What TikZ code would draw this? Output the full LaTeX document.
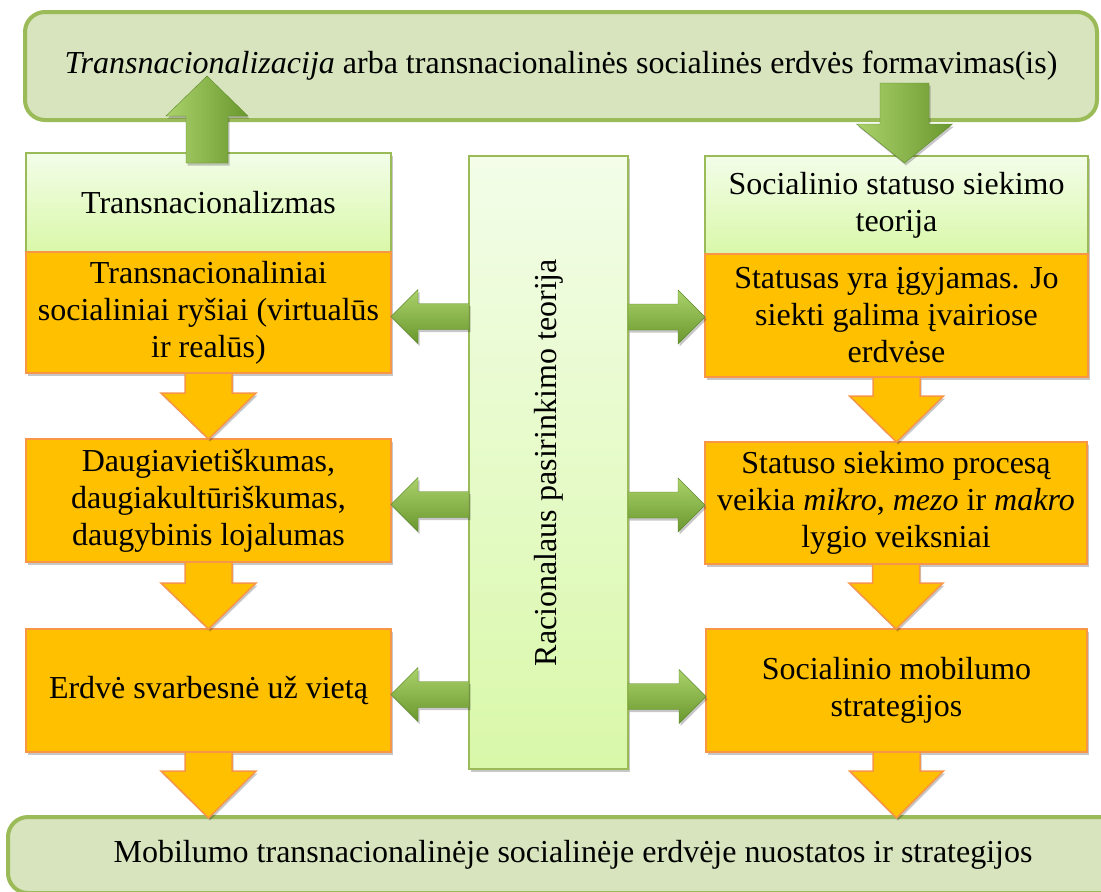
\documentclass[tikz,border=0pt]{standalone}
\usepackage{fontspec}
\setmainfont{Liberation Serif}
\usetikzlibrary{calc,shadows}

\definecolor{boxorange}{HTML}{FFC000}
\definecolor{stageline}{HTML}{F79646}
\definecolor{framegreen}{HTML}{9BBB59}
\definecolor{panelgreen}{HTML}{D7E4BD}
\definecolor{theorytop}{HTML}{F3FDE9}
\definecolor{theorybot}{HTML}{D9F8A9}
\definecolor{linklight}{HTML}{ABD26A}
\definecolor{linkmid}{HTML}{93BF4E}
\definecolor{linkdark}{HTML}{6A972F}
\definecolor{linkedge}{HTML}{5E8A2A}

% vertical block arrow: style, from, to, shaft half-width, head half-width, head length
\newcommand\vblock[6]{%
  \path[#1] let \p1=(#2), \p2=(#3), \p3=($(\x1,\y2)!#6!(\p1)$) in
    (\x1-#4,\y1) -- (\x1-#4,\y3) -- (\x1-#5,\y3) -- (\x1,\y2)
    -- (\x1+#5,\y3) -- (\x1+#4,\y3) -- (\x1+#4,\y1) -- cycle;}
% horizontal block arrow: style, from, to, shaft half-width, head half-width, head length
\newcommand\hblock[6]{%
  \path[#1] let \p1=(#2), \p2=(#3), \p3=($(\x2,\y1)!#6!(\p1)$) in
    (\x1,\y1-#4) -- (\x3,\y1-#4) -- (\x3,\y1-#5) -- (\x2,\y1)
    -- (\x3,\y1+#5) -- (\x3,\y1+#4) -- (\x1,\y1+#4) -- cycle;}

\begin{document}
\begin{tikzpicture}[x=1pt,y=-1pt,
  every node/.style={inner sep=0pt, outer sep=0pt, align=center,
    font=\fontsize{32}{37}\selectfont},
  softshadow/.style={drop shadow={shadow xshift=1.5pt, shadow yshift=-2.5pt,
    opacity=0.22, fill=black}},
  frame/.style={draw=framegreen, line width=4pt, fill=panelgreen,
    rounded corners=20pt},
  theory/.style={draw=framegreen, line width=1.5pt, top color=theorytop,
    bottom color=theorybot, softshadow},
  stage/.style={draw=stageline, line width=1.5pt, fill=boxorange, softshadow},
  flow/.style={draw=stageline, line width=1.5pt, fill=boxorange, softshadow},
  hlink/.style={draw=linkedge, line width=0.4pt, top color=linklight,
    middle color=linkmid, bottom color=linkdark, softshadow},
  vlink/.style={draw=linkedge, line width=0.4pt, left color=linklight,
    middle color=linkmid, right color=linkdark, softshadow}]

\useasboundingbox (0,0) rectangle (1101,892);
\fill[white] (0,0) rectangle (1101,892);

% outer frames
\node[frame, minimum width=1072pt, minimum height=108pt] (top) at (561,66)
  {\textit{Transnacionalizacija} arba transnacionalinės socialinės erdvės formavimas(is)};
\node[frame, minimum width=1130pt, minimum height=76pt] (bottom) at (573,855)
  {Mobilumo transnacionalinėje socialinėje erdvėje nuostatos ir strategijos};

% left column
\node[theory, minimum width=365pt, minimum height=99pt] (lhead) at (208.5,202.5)
  {Transnacionalizmas};
\node[stage, minimum width=365pt, minimum height=121pt] (l1) at (208.5,312.5)
  {Transnacionaliniai\\socialiniai ryšiai (virtualūs\\ir realūs)};
\node[stage, minimum width=365pt, minimum height=123pt] (l2) at (208.5,500.5)
  {Daugiavietiškumas,\\daugiakultūriškumas,\\daugybinis lojalumas};
\node[stage, minimum width=365pt, minimum height=123pt] (l3) at (208.5,690.5)
  {Erdvė svarbesnė už vietą};

% right column
\node[theory, minimum width=383pt, minimum height=98pt] (rhead) at (896.5,205)
  {Socialinio statuso siekimo\\teorija};
\node[stage, minimum width=383pt, minimum height=123pt] (r1) at (896.5,315.5)
  {Statusas yra įgyjamas. Jo\\siekti galima įvairiose\\erdvėse};
\node[stage, minimum width=382pt, minimum height=122pt] (r2) at (896,503)
  {Statuso siekimo procesą\\veikia \textit{mikro}, \textit{mezo} ir \textit{makro}\\lygio veiksniai};
\node[stage, minimum width=381pt, minimum height=123pt] (r3) at (896.5,690.5)
  {Socialinio mobilumo\\strategijos};

% central theory bar
\node[theory, minimum width=159pt, minimum height=613pt] (mid) at (548.5,462.5) {};
\node[rotate=90] (midlabel) at (mid.center) {Racionalaus pasirinkimo teorija};

% links to the top frame
\vblock{vlink}{$(lhead.north)+(-1.5,10)$}{$(lhead.north |- top.center)+(-1.5,10)$}{21pt}{41pt}{40pt}
\vblock{vlink}{$(rhead.north)+(8,-73)$}{$(rhead.north)+(8,7)$}{24.5pt}{48pt}{39pt}

% downward flow, left
\vblock{flow}{l1.south}{l2.north}{23.5pt}{47.5pt}{46pt}
\vblock{flow}{l2.south}{l3.north}{23.5pt}{47.5pt}{46pt}
\vblock{flow}{l3.south}{$(l3.south |- bottom.north)+(0,1)$}{23.5pt}{47.5pt}{47pt}
% downward flow, right
\vblock{flow}{r1.south}{r2.north}{23.5pt}{47pt}{46pt}
\vblock{flow}{r2.south}{r3.north}{23.5pt}{47pt}{46pt}
\vblock{flow}{r3.south}{$(r3.south |- bottom.north)+(0,1)$}{23.5pt}{47pt}{47pt}

% side links from the central bar
\hblock{hlink}{$(mid.west |- l1.center)+(0,4)$}{l1.east}{13pt}{27pt}{27pt}
\hblock{hlink}{$(mid.west |- l2.center)+(0,4)$}{l2.east}{13pt}{27pt}{27pt}
\hblock{hlink}{$(mid.west |- l3.center)+(0,4)$}{l3.east}{13pt}{27pt}{27pt}
\hblock{hlink}{$(mid.east |- r1.center)+(0,1.5)$}{r1.west}{13pt}{27pt}{27pt}
\hblock{hlink}{$(mid.east |- r2.center)+(0,2)$}{r2.west}{13pt}{27pt}{27pt}
\hblock{hlink}{$(mid.east |- r3.center)+(0,6)$}{r3.west}{13pt}{27pt}{27pt}

\end{tikzpicture}
\end{document}
